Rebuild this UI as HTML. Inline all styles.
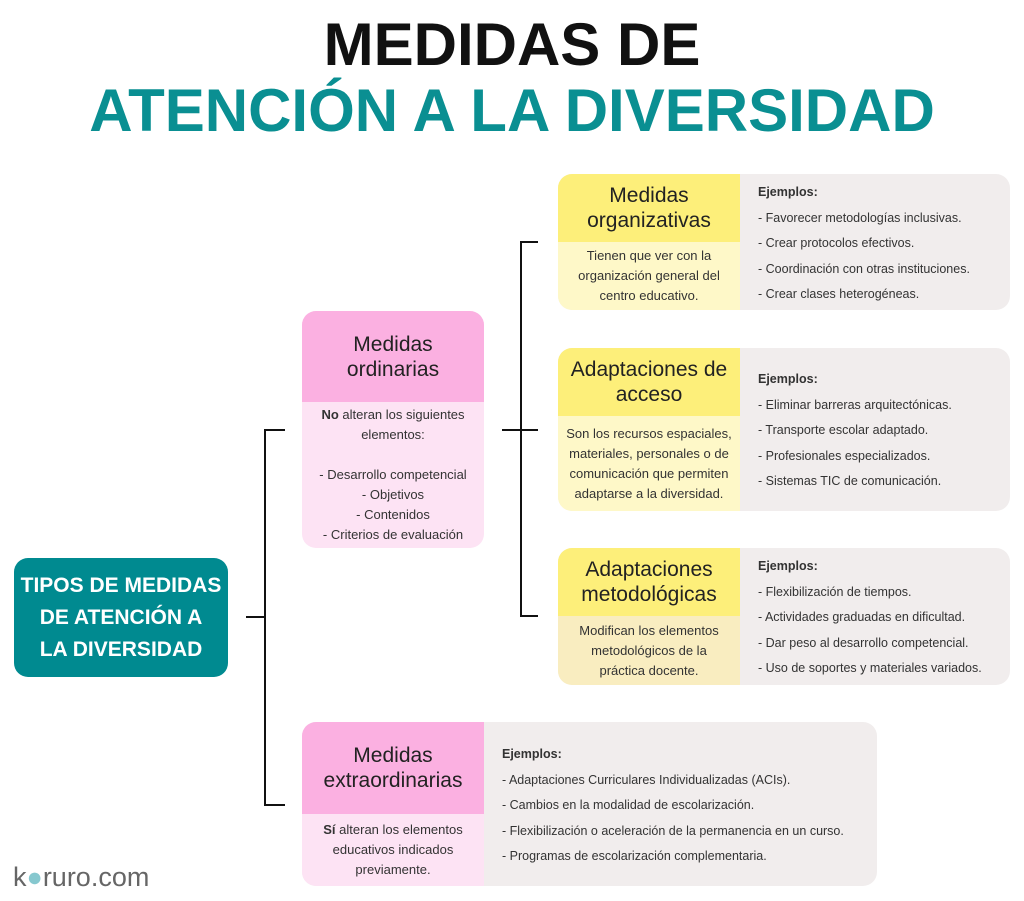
<!DOCTYPE html>
<html><head><meta charset="utf-8"><style>
body{margin:0;width:1024px;height:901px;background:#fff;font-family:"Liberation Sans",sans-serif;position:relative;overflow:hidden;color:#222}
.a{position:absolute}
.t{left:0;width:1024px;text-align:center;font-weight:bold}
.card{position:absolute;border-radius:14px;overflow:hidden;background:#f1eded}
.h{position:absolute;left:0;width:182px;display:flex;align-items:center;justify-content:center;text-align:center;font-size:21px;line-height:25px;color:#222}
.b{position:absolute;left:0;width:182px;display:flex;align-items:center;justify-content:center;text-align:center;font-size:13px;line-height:20px;color:#333}
.ex{position:absolute;font-size:12.5px;line-height:25.5px;color:#333;white-space:nowrap}
.ln{position:absolute;background:#111}
</style></head><body>
<div class="a t" style="top:13px;font-size:60px;line-height:64px;color:#111">MEDIDAS DE</div>
<div class="a t" style="top:79px;font-size:60px;line-height:64px;color:#0a8f92">ATENCIÓN A LA DIVERSIDAD</div>

<div class="a" style="left:14px;top:558px;width:214px;height:119px;background:#008a90;border-radius:14px;color:#fff;font-weight:bold;font-size:21px;line-height:32px;text-align:center;display:flex;align-items:center;justify-content:center">TIPOS DE MEDIDAS<br>DE ATENCIÓN A<br>LA DIVERSIDAD</div>

<div class="ln" style="left:246px;top:616px;width:20px;height:2px"></div>
<div class="ln" style="left:264px;top:429px;width:2px;height:377px"></div>
<div class="ln" style="left:264px;top:429px;width:21px;height:2px"></div>
<div class="ln" style="left:264px;top:804px;width:21px;height:2px"></div>

<div class="ln" style="left:502px;top:429px;width:36px;height:2px"></div>
<div class="ln" style="left:520px;top:241px;width:2px;height:376px"></div>
<div class="ln" style="left:520px;top:241px;width:18px;height:2px"></div>
<div class="ln" style="left:520px;top:615px;width:18px;height:2px"></div>

<div class="card" style="left:302px;top:311px;width:182px;height:237px;background:#fde3f4">
<div class="h" style="top:0;height:91px;background:#fbb0e1">Medidas<br>ordinarias</div>
<div class="b" style="top:91px;height:146px;font-size:13px"><div><b>No</b> alteran los siguientes<br>elementos:<br><br>- Desarrollo competencial<br>- Objetivos<br>- Contenidos<br>- Criterios de evaluación</div></div>
</div>

<div class="card" style="left:558px;top:174px;width:452px;height:136px">
<div class="h" style="top:0;height:68px;background:#fdef7a">Medidas<br>organizativas</div>
<div class="b" style="top:68px;height:68px;background:#fef8c8">Tienen que ver con la<br>organización general del<br>centro educativo.</div>
<div class="ex" style="left:200px;top:6px"><b>Ejemplos:</b><br>- Favorecer metodologías inclusivas.<br>- Crear protocolos efectivos.<br>- Coordinación con otras instituciones.<br>- Crear clases heterogéneas.</div>
</div>

<div class="card" style="left:558px;top:348px;width:452px;height:163px">
<div class="h" style="top:0;height:68px;background:#fdef7a">Adaptaciones de<br>acceso</div>
<div class="b" style="top:68px;height:95px;background:#fef8c8">Son los recursos espaciales,<br>materiales, personales o de<br>comunicación que permiten<br>adaptarse a la diversidad.</div>
<div class="ex" style="left:200px;top:19px"><b>Ejemplos:</b><br>- Eliminar barreras arquitectónicas.<br>- Transporte escolar adaptado.<br>- Profesionales especializados.<br>- Sistemas TIC de comunicación.</div>
</div>

<div class="card" style="left:558px;top:548px;width:452px;height:137px">
<div class="h" style="top:0;height:68px;background:#fdef7a">Adaptaciones<br>metodológicas</div>
<div class="b" style="top:68px;height:69px;background:#f9edc0">Modifican los elementos<br>metodológicos de la<br>práctica docente.</div>
<div class="ex" style="left:200px;top:6px"><b>Ejemplos:</b><br>- Flexibilización de tiempos.<br>- Actividades graduadas en dificultad.<br>- Dar peso al desarrollo competencial.<br>- Uso de soportes y materiales variados.</div>
</div>

<div class="card" style="left:302px;top:722px;width:575px;height:164px">
<div class="h" style="top:0;height:92px;background:#fbb0e1">Medidas<br>extraordinarias</div>
<div class="b" style="top:92px;height:72px;background:#fde3f4"><div><b>Sí</b> alteran los elementos<br>educativos indicados<br>previamente.</div></div>
<div class="ex" style="left:200px;top:20px"><b>Ejemplos:</b><br>- Adaptaciones Curriculares Individualizadas (ACIs).<br>- Cambios en la modalidad de escolarización.<br>- Flexibilización o aceleración de la permanencia en un curso.<br>- Programas de escolarización complementaria.</div>
</div>

<div class="a" style="left:13px;top:860px;font-size:27px;line-height:34px;color:#666">k<span style="color:#86c8cf">●</span>ruro.com</div>
</body></html>
